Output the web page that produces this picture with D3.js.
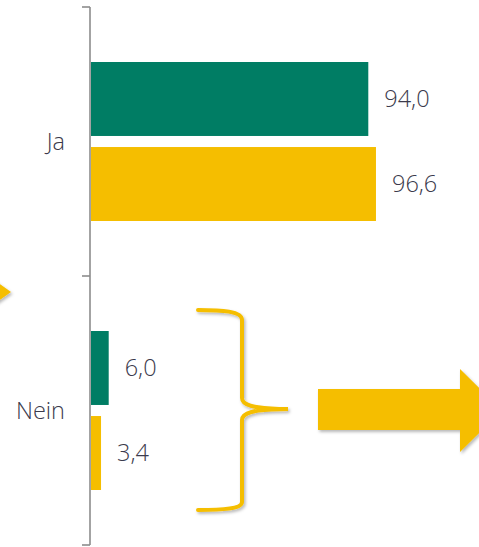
<!DOCTYPE html>
<html>
<head>
<meta charset="utf-8">
<script src="https://cdn.jsdelivr.net/npm/d3@7"></script>
<style>
  html, body { margin: 0; padding: 0; background: #fff; }
  svg { display: block; }
  text { font-family: "Open Sans", "Noto Sans", sans-serif; font-weight: 300; }
</style>
</head>
<body>
<svg id="chart" width="479" height="547"></svg>
<script>
// Answer categories and the two compared series (values in %)
const categories = ["Ja", "Nein"];
const seriesNames = ["Gruppe A", "Gruppe B"];
const seriesA = [94.0, 6.0];
const seriesB = [96.6, 3.4];
const seriesColors = ["#007d64", "#f5be00"];
const valueLabels = [["94,0", "6,0"], ["96,6", "3,4"]];

const textColor = "#3b3a4c";
const fontSize = 23.5;

const svg = d3.select("#chart");
const axisX = 90;

const defs = svg.append("defs");
const f = defs.append("filter").attr("id", "soft").attr("x", "-20%").attr("y", "-20%").attr("width", "140%").attr("height", "140%");
f.append("feDropShadow").attr("dx", 1.5).attr("dy", 2).attr("stdDeviation", 1.8)
  .attr("flood-color", "#000").attr("flood-opacity", 0.28);

const x = d3.scaleLinear().domain([0, 100]).range([axisX + 1, axisX + 1 + 295]);
const y = d3.scaleBand().domain(categories).range([7, 545]).paddingInner(0).paddingOuter(0);

// inner grouping of the two series within each category band
const groupH = 159;
const inner = d3.scaleBand().domain(seriesNames)
  .range([(y.bandwidth() - groupH) / 2, (y.bandwidth() + groupH) / 2])
  .paddingInner(0.13).paddingOuter(0);

const rows = [];
categories.forEach((c, i) => {
  [seriesA, seriesB].forEach((s, j) => {
    rows.push({ cat: c, series: seriesNames[j], value: s[i], label: valueLabels[j][i], color: seriesColors[j] });
  });
});

const g = svg.append("g");
g.selectAll("rect.bar").data(rows).join("rect")
  .attr("class", "bar")
  .attr("x", x(0))
  .attr("y", d => y(d.cat) + inner(d.series))
  .attr("width", d => x(d.value) - x(0))
  .attr("height", inner.bandwidth())
  .attr("fill", d => d.color);

g.selectAll("text.val").data(rows).join("text")
  .attr("class", "val")
  .attr("x", d => x(d.value) + 16)
  .attr("y", d => y(d.cat) + inner(d.series) + inner.bandwidth() / 2)
  .attr("dy", "0.35em")
  .attr("font-size", fontSize)
  .style("fill", textColor)
  .text(d => d.label);

// category axis: labels at band centres, ticks at band boundaries
const axis = d3.axisLeft(y).tickSize(0).tickPadding(25);
const ax = svg.append("g").attr("transform", `translate(${axisX},0)`).call(axis);
ax.attr("font-family", null).attr("font-size", null);
ax.select(".domain").remove();
ax.selectAll("text").attr("font-size", fontSize).attr("dy", "0.35em").style("fill", textColor);

const bounds = [y.range()[0], ...categories.map(c => y(c) + y.bandwidth())];
svg.append("line").attr("x1", axisX).attr("x2", axisX)
  .attr("y1", bounds[0]).attr("y2", bounds[bounds.length - 1])
  .attr("stroke", "#8c8c8c").attr("stroke-width", 1.6);
svg.selectAll("line.btick").data(bounds).join("line")
  .attr("class", "btick")
  .attr("x1", axisX - 8).attr("x2", axisX)
  .attr("y1", d => d).attr("y2", d => d)
  .attr("stroke", "#8c8c8c").attr("stroke-width", 1.6);

// decorative pointer tip entering from the left edge
svg.append("path")
  .attr("d", "M-20,270 L11,292 L-20,314 Z")
  .attr("fill", "#f5be00").attr("filter", "url(#soft)");

// curly brace grouping the "Nein" bars
svg.append("path")
  .attr("d", "M198,310 C222,310 242,311 242,320 L242,398 C242,405 252,409 288,409 C252,409 242,413 242,420 L242,502 C242,509 222,510 198,510")
  .attr("fill", "none").attr("stroke", "#f5be00").attr("stroke-width", 4)
  .attr("stroke-linecap", "round").attr("filter", "url(#soft)");

// block arrow pointing right
svg.append("path")
  .attr("d", "M318,389 L460,389 L460,369 L502,410.5 L460,452 L460,430 L318,430 Z")
  .attr("fill", "#f5be00").attr("filter", "url(#soft)");
</script>
</body>
</html>
